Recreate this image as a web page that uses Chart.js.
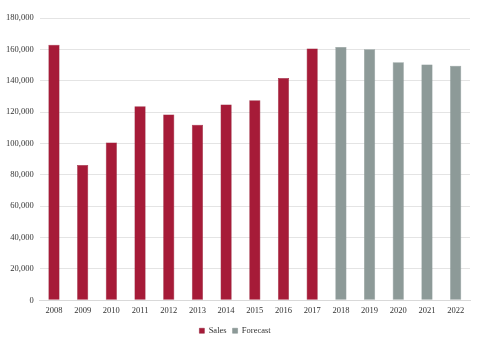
<!DOCTYPE html>
<html>
<head>
<meta charset="utf-8">
<script src="https://cdn.jsdelivr.net/npm/chart.js@4/dist/chart.umd.min.js"></script>
<style>
  html, body { margin: 0; padding: 0; background: #fff; }
  #wrap { width: 480px; height: 349px; position: relative; }
</style>
</head>
<body>
<div id="wrap"><canvas id="myChart"></canvas></div>
<script>
const years = ['2008', '2009', '2010', '2011', '2012', '2013', '2014', '2015', '2016', '2017', '2018', '2019', '2020', '2021', '2022']
const sales = [163000, 86300, 100600, 123800, 118500, 112000, 124800, 127500, 141800, 160500, null, null, null, null, null]
const forecast = [null, null, null, null, null, null, null, null, null, null, 161500, 160000, 151800, 150300, 149500]
const yTicks = [0, 20000, 40000, 60000, 80000, 100000, 120000, 140000, 160000, 180000]

const tickFont = { family: 'Liberation Serif', size: 8.5 }

const data = {
  labels: years,
  datasets: [
    {
      label: 'Sales',
      data: sales,
      backgroundColor: '#A61B38',
      borderColor: '#8E1830',
      borderWidth: 0.5
    },
    {
      label: 'Forecast',
      data: forecast,
      backgroundColor: '#8D9A98',
      borderColor: '#7E8C8A',
      borderWidth: 0.5
    }
  ]
}

const config = {
  type: 'bar',
  data,
  options: {
    responsive: true,
    maintainAspectRatio: false,
    animation: false,
    categoryPercentage: 1,
    barPercentage: 0.39,
    layout: { padding: { left: 0, right: 10, top: 18, bottom: 4 } },
    plugins: {
      legend: {
        position: 'bottom',
        labels: {
          boxWidth: 5,
          boxHeight: 5,
          padding: 6,
          color: '#333',
          font: tickFont
        }
      },
      tooltip: { enabled: false }
    },
    scales: {
      x: {
        stacked: true,
        grid: { display: false },
        border: { color: '#d9d9d9' },
        ticks: { color: '#333', font: tickFont, maxRotation: 0, padding: -3 },
        afterFit: (scale) => { scale.height += 8 }
      },
      y: {
        stacked: true,
        min: 0,
        max: 180000,
        afterBuildTicks: (axis) => {
          axis.ticks = yTicks.map(v => ({ value: v }))
        },
        grid: { color: '#e4e4e4', drawTicks: false },
        border: { display: false },
        ticks: {
          color: '#333',
          font: tickFont,
          padding: 6,
          callback: (v) => v.toLocaleString('en-US')
        }
      }
    }
  }
}

new Chart(document.getElementById('myChart'), config)
</script>
</body>
</html>
